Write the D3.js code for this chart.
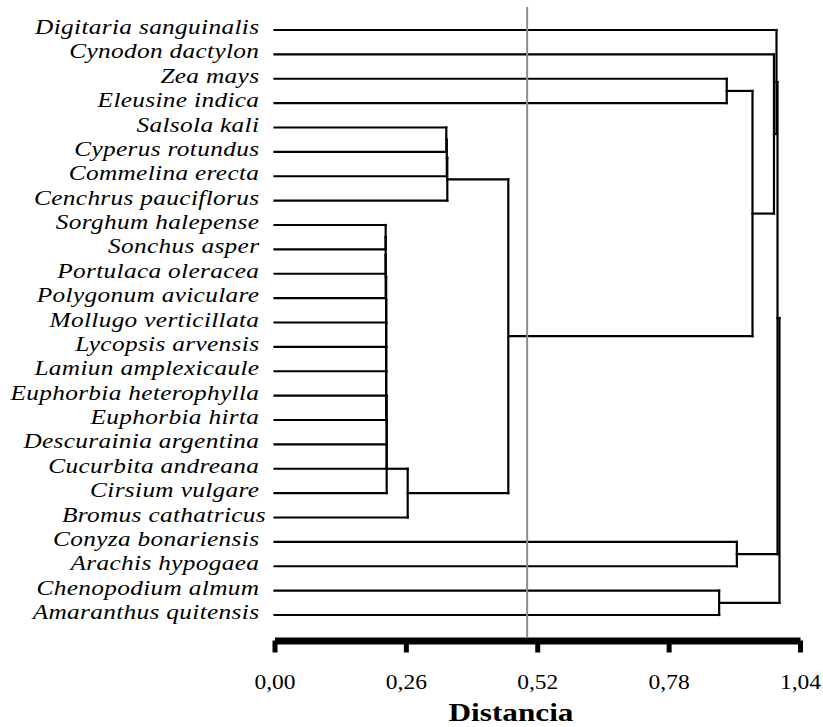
<!DOCTYPE html>
<html>
<head>
<meta charset="utf-8">
<script src="https://cdn.jsdelivr.net/npm/d3@7"></script>
<style>
  body { margin: 0; background: #fff; }
  svg { display: block; }
  .leaf-label { font-family: "Liberation Serif", "Times New Roman", serif; font-style: italic; font-size: 22px; letter-spacing: 0.3px; white-space: pre; }
</style>
</head>
<body>
<script>
var w = 823;
var h = 727;

// species in dendrogram order (trailing space as in the original labels)
var species = [
  "Digitaria sanguinalis ", "Cynodon dactylon ", "Zea mays ", "Eleusine indica ",
  "Salsola kali ", "Cyperus rotundus ", "Commelina erecta ", "Cenchrus pauciflorus ",
  "Sorghum halepense ", "Sonchus asper ", "Portulaca oleracea ", "Polygonum aviculare ",
  "Mollugo verticillata ", "Lycopsis arvensis ", "Lamiun amplexicaule ",
  "Euphorbia heterophylla ", "Euphorbia hirta ", "Descurainia argentina ",
  "Cucurbita andreana ", "Cirsium vulgare ", "Bromus cathatricus",
  "Conyza bonariensis ", "Arachis hypogaea ", "Chenopodium almum ", "Amaranthus quitensis "
];

// merges: node ids 0..24 are leaves, 25.. are merges in this order
var mergePairs = [
  [4, 5], [25, 6], [26, 7],
  [8, 9], [28, 10], [29, 11], [30, 12], [31, 13], [32, 14], [33, 15], [34, 16], [35, 17], [36, 18], [37, 19],
  [38, 20], [27, 39],
  [2, 3], [41, 40], [1, 42], [0, 43],
  [21, 22], [44, 45],
  [23, 24], [46, 47]
];
var mergeHeights = [
  0.340, 0.341, 0.342,
  0.220, 0.220, 0.220, 0.221, 0.221, 0.221, 0.221, 0.221, 0.222, 0.222, 0.222,
  0.2636, 0.4627,
  0.895, 0.946, 0.9885, 0.9935,
  0.915, 0.9955,
  0.880, 0.9994
];

var tickValues = [0, 0.26, 0.52, 0.78, 1.04];
var cutoff = 0.5;

var xScale = d3.scaleLinear()
    .domain([0, 1.04])
    .range([274.5, 800]);

var yScale = d3.scalePoint()
    .domain(d3.range(species.length))
    .range([30, 615]);

var svg = d3.select("body")
    .append("svg")
    .attr("width", w)
    .attr("height", h);

// node positions: leaves first, then each merge
var nodes = species.map(function (d, i) {
  return { y: yScale(i), height: 0 };
});
var segs = [];
mergePairs.forEach(function (p, i) {
  var a = nodes[p[0]], b = nodes[p[1]];
  var hh = mergeHeights[i];
  segs.push([a.height, a.y, hh, a.y]);
  segs.push([b.height, b.y, hh, b.y]);
  segs.push([hh, a.y, hh, b.y]);
  nodes.push({ y: (a.y + b.y) / 2, height: hh });
});

svg.append("g")
    .selectAll("line")
    .data(segs)
    .enter()
    .append("line")
    .attr("x1", function (d) { return xScale(d[0]); })
    .attr("y1", function (d) { return d[1]; })
    .attr("x2", function (d) { return xScale(d[2]); })
    .attr("y2", function (d) { return d[3]; })
    .attr("stroke", "#000")
    .attr("stroke-width", 2.2)
    .attr("stroke-linecap", "square");

// leaf labels
svg.append("g")
    .selectAll("text")
    .data(species)
    .enter()
    .append("text")
    .attr("class", "leaf-label")
    .attr("text-anchor", "end")
    .attr("transform", function (d, i) {
      return "translate(266," + (yScale(i) + 4) + ") scale(1.15,1)";
    })
    .text(function (d) { return d; });

// cutoff line
svg.append("line")
    .attr("x1", xScale(cutoff))
    .attr("x2", xScale(cutoff))
    .attr("y1", 7)
    .attr("y2", 637)
    .attr("stroke", "#8c8c8c")
    .attr("stroke-width", 2);

// axis
var axis = d3.axisBottom(xScale)
    .tickValues(tickValues)
    .tickSizeInner(12)
    .tickSizeOuter(0)
    .tickPadding(22)
    .tickFormat(function (d) { return d3.format(".2f")(d).replace(".", ","); });

var gx = svg.append("g")
    .attr("transform", "translate(0,640.5)")
    .call(axis);

gx.select(".domain").attr("stroke", "#000").attr("stroke-width", 7);
gx.selectAll(".tick line").attr("stroke", "#000").attr("stroke-width", 5);
gx.selectAll(".tick text")
    .attr("fill", "#000")
    .attr("font-family", "Liberation Serif, Times New Roman, serif")
    .attr("font-size", 21)
    .attr("transform", "scale(1.12,1)");

svg.append("text")
    .attr("text-anchor", "middle")
    .attr("transform", "translate(511,721) scale(1.25,1)")
    .attr("font-family", "Liberation Serif, Times New Roman, serif")
    .attr("font-weight", "bold")
    .attr("font-size", 25)
    .text("Distancia");
</script>
</body>
</html>
